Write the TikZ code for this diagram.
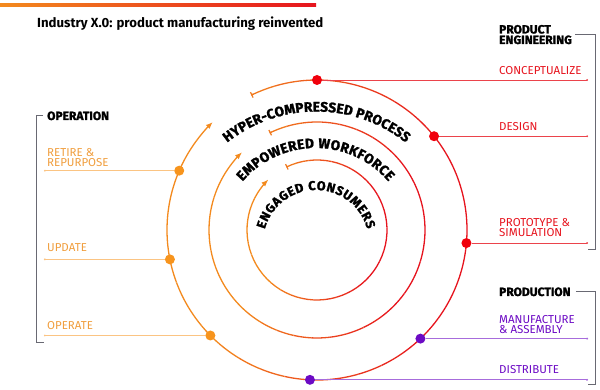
\documentclass[tikz,border=0pt]{standalone}
\usepackage{fontspec}
\setmainfont{Fira Sans}
\newfontfamily\heavyfam{Fira Sans}[BoldFeatures={FakeBold=1.6}]
\definecolor{ixorange}{RGB}{243,138,30}
\definecolor{ixred}{RGB}{230,20,30}
\definecolor{ixdot}{RGB}{240,0,12}
\definecolor{ixamber}{RGB}{247,148,29}
\definecolor{ixtan}{RGB}{240,158,62}
\definecolor{ixpurple}{RGB}{108,10,196}
\definecolor{ixgray}{RGB}{105,105,115}
\usetikzlibrary{arrows.meta,positioning,calc,decorations.text}
\newcommand\ringfont{\heavyfam\bfseries\fontsize{13.8}{13.8}\selectfont}
\newcommand\coreringfont{\heavyfam\bfseries\fontsize{12.8}{12.8}\selectfont}

\begin{document}
\begin{tikzpicture}[x=1pt,y=1pt,
  dot/.style={circle,fill=#1,inner sep=0pt,minimum size=10pt},
  lead/.style={draw=#1,line width=0.7pt,-{Circle[length=1.8pt]}},
  ring/.style={line width=1.3pt},
  bracket/.style={draw=ixgray,line width=0.8pt},
  head/.style={font=\heavyfam\bfseries\fontsize{12}{10.5}\selectfont,inner sep=0pt,align=left,anchor=base west},
  lbl/.style={text=#1,font=\fontsize{11.5}{10.2}\selectfont,inner sep=0pt,align=left,anchor=base west}]
\useasboundingbox (0,0) rectangle (600,390);
\shade[left color=ixorange,right color=ixred] (0,383.5) rectangle (316,386);
\node[anchor=base west,inner sep=0pt,font=\bfseries\fontsize{13.2}{15}\selectfont] (title) at (37,362) {Industry X.0: product manufacturing reinvented};
\coordinate (ctr) at (317,160);
\foreach \r in {150,108,70} {
  \foreach \i in {0,...,34} {
    \pgfmathsetmacro\a{116-9.5*\i}
    \pgfmathtruncatemacro\p{max(0,min(100,45+70*cos(\a)))}
    \draw[ring,color=ixred!\p!ixorange] ([shift={(\a:\r)}]ctr) arc[start angle=\a,delta angle=-9.5,radius=\r];
  }
  \draw[ring,color=ixred!14!ixorange,{Bar[width=6pt,line width=1.2pt]}-] ([shift={(116:\r)}]ctr) arc[start angle=116,delta angle=-1,radius=\r];
  \draw[ring,ixorange,-{Latex[length=7pt,width=5.5pt]}] ([shift={(-216.5:\r)}]ctr) arc[start angle=-216.5,end angle=-226,radius=\r];
}
\coordinate (tc1) at (316.5,135);
\coordinate (tc2) at (315.5,146);
\coordinate (tc3) at (316,147);
\path[decorate,decoration={text along path,text align={fit to path},text={|\ringfont|HYPER-COMPRESSED PROCESS}}]
  ([shift={(128.5:143.5)}]tc1) arc[start angle=128.5,end angle=51.5,radius=143.5];
\path[decorate,decoration={text along path,text align={fit to path},text={|\ringfont|EMPOWERED WORKFORCE}}]
  ([shift={(139.5:96)}]tc2) arc[start angle=139.5,end angle=40.5,radius=96];
\path[decorate,decoration={text along path,text align={fit to path},text={|\coreringfont|ENGAGED CONSUMERS}}]
  ([shift={(165:53)}]tc3) arc[start angle=165,end angle=15,radius=53];
\node[dot=ixdot] (concept) at ([shift={(90:150)}]ctr) {};
\node[dot=ixdot] (design) at ([shift={(38.7:150)}]ctr) {};
\node[dot=ixdot] (proto) at ([shift={(-5:150)}]ctr) {};
\node[dot=ixpurple] (manuf) at ([shift={(-46.4:150)}]ctr) {};
\node[dot=ixpurple] (distr) at ([shift={(-92.7:150)}]ctr) {};
\node[dot=ixamber] (operate) at ([shift={(224.7:150)}]ctr) {};
\node[dot=ixamber] (update) at ([shift={(191.3:150)}]ctr) {};
\node[dot=ixamber] (retire) at ([shift={(156.7:150)}]ctr) {};
\coordinate (rend) at (588,0);
\coordinate (lend) at (44,0);
\draw[lead=ixred!80] (concept) -- (concept -| rend);
\draw[lead=ixred!80] (design) -- (design -| rend);
\draw[lead=ixred!80] (proto) -- (proto -| rend);
\draw[lead=ixpurple!60] (manuf) -- (manuf -| rend);
\draw[lead=ixpurple!60] (distr) -- (distr -| rend);
\draw[lead=ixamber!55] (operate) -- (operate -| lend);
\draw[lead=ixamber!55] (update) -- (update -| lend);
\draw[lead=ixamber!55] (retire) -- (retire -| lend);
\node[head] (opn) at (47,270) {OPERATION};
\node[lbl=ixtan] (retlbl) at (47,223.5) {RETIRE \&\\REPURPOSE};
\node[lbl=ixtan] (updlbl) at (47,138) {UPDATE};
\node[lbl=ixtan] (oplbl) at (47,60) {OPERATE};
\node[head] (peng) at (499,346) {PRODUCT\\ENGINEERING};
\node[lbl=ixred] (conlbl) at (499,315) {CONCEPTUALIZE};
\node[lbl=ixred] (deslbl) at (499,259) {DESIGN};
\node[lbl=ixred] (prolbl) at (499,153) {PROTOTYPE \&\\SIMULATION};
\node[head] (prod) at (499,94) {PRODUCTION};
\node[lbl=ixpurple] (manlbl) at (499,56) {MANUFACTURE\\\& ASSEMBLY};
\node[lbl=ixpurple] (dislbl) at (499,16) {DISTRIBUTE};
\coordinate (opbot) at (36,48);
\coordinate (pebot) at (595,141);
\coordinate (prbot) at (595,6);
\draw[bracket] ([xshift=-4pt]opn.west) -| (opbot) -- (opbot -| lend);
\draw[bracket] ([xshift=3pt]peng.east) -| (pebot) -- (pebot -| rend);
\draw[bracket] ([xshift=5pt]prod.east) -| (prbot) -- (prbot -| rend);
\end{tikzpicture}
\end{document}
